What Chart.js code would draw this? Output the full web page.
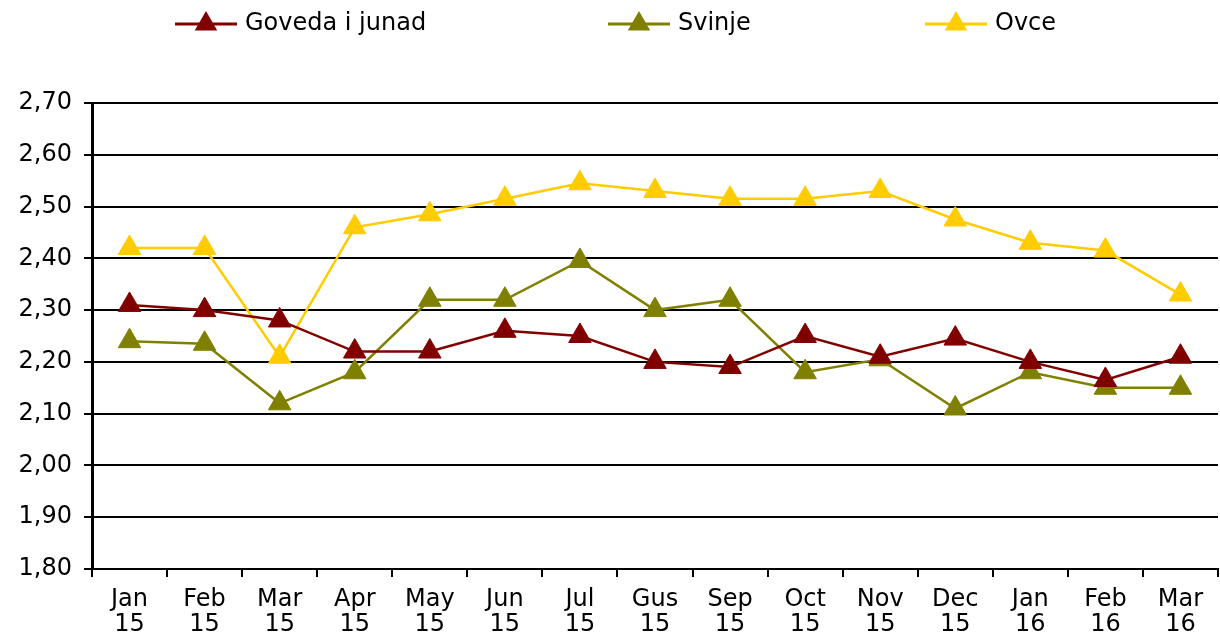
<!DOCTYPE html>
<html>
<head>
<meta charset="utf-8">
<script src="https://cdn.jsdelivr.net/npm/chart.js@4.4.1/dist/chart.umd.min.js"></script>
<style>
  html, body { margin: 0; padding: 0; background: #fff; overflow: hidden; }
  canvas { display: block; }
</style>
</head>
<body>
<canvas id="grafico" width="1220" height="633" style="width:1220px;height:633px"></canvas>
<script>
// podaci ocitani s grafikona
const mjeseci = [['Jan', '15'], ['Feb', '15'], ['Mar', '15'], ['Apr', '15'], ['May', '15'], ['Jun', '15'], ['Jul', '15'],
    ['Gus', '15'], ['Sep', '15'], ['Oct', '15'], ['Nov', '15'], ['Dec', '15'], ['Jan', '16'], ['Feb', '16'], ['Mar', '16']];
const goveda = [2.31, 2.30, 2.28, 2.22, 2.22, 2.26, 2.25, 2.20, 2.19, 2.25, 2.21, 2.245, 2.20, 2.165, 2.21];
const svinje = [2.24, 2.235, 2.12, 2.18, 2.32, 2.32, 2.395, 2.30, 2.32, 2.18, 2.205, 2.11, 2.18, 2.15, 2.15];
const ovce = [2.42, 2.42, 2.21, 2.46, 2.485, 2.515, 2.545, 2.53, 2.515, 2.515, 2.53, 2.475, 2.43, 2.415, 2.33];
const nazivi = ['Goveda i junad', 'Svinje', 'Ovce'];
const boje = ['#800000', '#808000', '#ffcc00'];

const FONT = 'DejaVu Sans';
const VELICINA = 24;

function serija(i, data) {
    return {
        label: nazivi[i],
        data: data,
        borderColor: boje[i],
        backgroundColor: boje[i],
        borderWidth: 2.5,
        pointStyle: 'triangle',
        pointRadius: 13,
        pointHoverRadius: 13,
        pointBorderWidth: 1,
        tension: 0
    };
}

// legenda: linija + trokut + tekst, na vrhu
const legendaPlugin = {
    id: 'legenda',
    afterDraw(chart) {
        const ctx = chart.ctx;
        const pozicije = [175, 608, 925];
        const y = 24;
        ctx.save();
        chart.data.datasets.forEach((ds, i) => {
            const x = pozicije[i];
            ctx.strokeStyle = ds.borderColor;
            ctx.lineWidth = 3;
            ctx.beginPath();
            ctx.moveTo(x, y);
            ctx.lineTo(x + 62, y);
            ctx.stroke();
            ctx.fillStyle = ds.borderColor;
            const cx = x + 31, r = 13;
            ctx.beginPath();
            ctx.moveTo(cx, y - r);
            ctx.lineTo(cx + r * 0.866, y + r / 2);
            ctx.lineTo(cx - r * 0.866, y + r / 2);
            ctx.closePath();
            ctx.fill();
            ctx.fillStyle = '#000';
            ctx.font = VELICINA + 'px "' + FONT + '"';
            ctx.textBaseline = 'middle';
            ctx.fillText(ds.label, x + 70, y);
        });
        ctx.restore();
    }
};

new Chart(document.getElementById('grafico').getContext('2d'), {
    type: 'line',
    data: {
        labels: mjeseci,
        datasets: [serija(0, goveda), serija(1, svinje), serija(2, ovce)]
    },
    options: {
        responsive: false,
        animation: false,
        devicePixelRatio: 1,
        layout: { autoPadding: false, padding: { top: 103, right: 2, left: 0, bottom: 0 } },
        plugins: {
            legend: { display: false },
            tooltip: { enabled: false }
        },
        scales: {
            x: {
                offset: true,
                afterFit(scale) {
                    scale.height = 64;
                    scale.paddingLeft = 0;
                    scale.paddingRight = 0;
                },
                grid: {
                    offset: true,
                    drawOnChartArea: false,
                    drawTicks: true,
                    tickLength: 8,
                    color: '#000',
                    lineWidth: 2
                },
                border: { color: '#000', width: 2 },
                ticks: {
                    color: '#000',
                    font: { family: FONT, size: VELICINA, lineHeight: 1.05 },
                    padding: 10,
                    maxRotation: 0,
                    autoSkip: false
                }
            },
            y: {
                min: 1.8,
                max: 2.7,
                afterFit(scale) { scale.width = 92; },
                grid: {
                    color: '#000',
                    lineWidth: 2,
                    tickLength: 8
                },
                border: { color: '#000', width: 3 },
                ticks: {
                    stepSize: 0.1,
                    color: '#000',
                    font: { family: FONT, size: VELICINA },
                    padding: 12,
                    callback: v => v.toFixed(2).replace('.', ',')
                }
            }
        }
    },
    plugins: [legendaPlugin]
});
</script>
</body>
</html>
